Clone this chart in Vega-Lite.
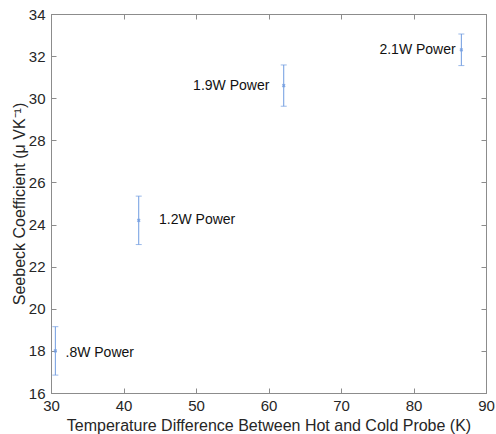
{
  "$schema": "https://vega.github.io/schema/vega-lite/v6.json",
  "width": 435,
  "height": 379,
  "autosize": {"type": "none"},
  "padding": {"left": 51, "top": 14, "right": 10, "bottom": 41},
  "background": "white",
  "config": {
    "font": "Liberation Sans",
    "view": {"stroke": "#8c8c8c", "strokeWidth": 1},
    "axis": {
      "grid": false,
      "domainColor": "#8c8c8c",
      "tickColor": "#8c8c8c",
      "tickSize": -5,
      "labelColor": "#262626",
      "titleColor": "#262626",
      "labelFont": "Liberation Sans",
      "titleFont": "Liberation Sans",
      "labelFontSize": 15,
      "titleFontSize": 16,
      "titleFontWeight": "normal"
    }
  },
  "data": {
    "values": [
      {"dT": 30.6, "S": 18.0, "lo": 16.85, "hi": 19.15, "label": ".8W Power", "lx": 32.0, "ly": 17.9},
      {"dT": 42.1, "S": 24.2, "lo": 23.05, "hi": 25.35, "label": "1.2W Power", "lx": 44.9, "ly": 24.2},
      {"dT": 62.1, "S": 30.6, "lo": 29.62, "hi": 31.58, "label": "1.9W Power", "lx": 49.6, "ly": 30.6},
      {"dT": 86.6, "S": 32.3, "lo": 31.55, "hi": 33.05, "label": "2.1W Power", "lx": 75.3, "ly": 32.3}
    ]
  },
  "resolve": {"axis": {"x": "independent", "y": "independent"}},
  "layer": [
    {
      "mark": {"type": "rule", "color": "#6f9be0", "strokeWidth": 1},
      "encoding": {
        "x": {
          "field": "dT", "type": "quantitative",
          "scale": {"domain": [30, 90], "nice": false, "zero": false},
          "axis": {
            "orient": "bottom",
            "values": [30, 40, 50, 60, 70, 80, 90],
            "labelPadding": 10,
            "labelFlush": false,
            "title": "Temperature Difference Between Hot and Cold Probe (K)",
            "titleY": 32,
            "titleBaseline": "middle"
          }
        },
        "y": {
          "field": "lo", "type": "quantitative",
          "scale": {"domain": [16, 34], "nice": false, "zero": false},
          "axis": {
            "orient": "left",
            "values": [16, 18, 20, 22, 24, 26, 28, 30, 32, 34],
            "labelPadding": 11,
            "labelFlush": false,
            "title": "Seebeck Coefficient (μ VK⁻¹)",
            "titleX": -32,
            "titleBaseline": "middle"
          }
        },
        "y2": {"field": "hi"}
      }
    },
    {
      "mark": {"type": "tick", "orient": "horizontal", "color": "#6f9be0", "size": 6, "thickness": 1},
      "encoding": {
        "x": {
          "field": "dT", "type": "quantitative",
          "axis": {"orient": "top", "values": [30, 40, 50, 60, 70, 80, 90], "labels": false, "title": null}
        },
        "y": {
          "field": "lo", "type": "quantitative",
          "axis": {"orient": "right", "values": [16, 18, 20, 22, 24, 26, 28, 30, 32, 34], "labels": false, "title": null}
        }
      }
    },
    {
      "mark": {"type": "tick", "orient": "horizontal", "color": "#6f9be0", "size": 6, "thickness": 1},
      "encoding": {
        "x": {"field": "dT", "type": "quantitative", "axis": null},
        "y": {"field": "hi", "type": "quantitative", "axis": null}
      }
    },
    {
      "mark": {"type": "point", "shape": "cross", "angle": 45, "size": 14, "filled": true, "color": "#6f9be0", "opacity": 0.8},
      "encoding": {
        "x": {"field": "dT", "type": "quantitative", "axis": null},
        "y": {"field": "S", "type": "quantitative", "axis": null}
      }
    },
    {
      "mark": {"type": "text", "align": "left", "baseline": "middle", "fontSize": 14, "font": "Liberation Sans", "color": "#111111"},
      "encoding": {
        "x": {"field": "lx", "type": "quantitative", "axis": null},
        "y": {"field": "ly", "type": "quantitative", "axis": null},
        "text": {"field": "label"}
      }
    }
  ]
}
